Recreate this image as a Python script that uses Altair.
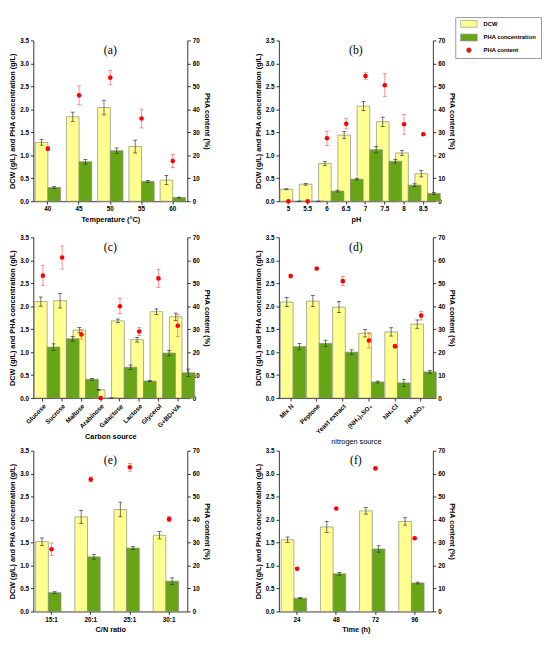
import altair as alt
import pandas as pd

SERIES = ['DCW', 'PHA concentration', 'PHA content']
YELLOW = '#FFFF8F'
GREEN = '#66A516'
RED = '#FF0000'

# (a) temperature
temp_cats = ['40', '45', '50', '55', '60']
temp_dcw = [1.28, 1.84, 2.04, 1.19, 0.46]
temp_dcw_err = [0.06, 0.10, 0.16, 0.14, 0.10]
temp_pha = [0.30, 0.86, 1.10, 0.43, 0.08]
temp_pha_err = [0.02, 0.05, 0.06, 0.02, 0.01]
temp_cont = [22.9, 46.1, 53.8, 36.0, 17.5]
temp_cont_err = [0.8, 4.1, 3.1, 4.1, 2.8]

# (b) pH
ph_cats = ['5', '5.5', '6', '6.5', '7', '7.5', '8', '8.5']
ph_dcw = [0.26, 0.37, 0.82, 1.44, 2.07, 1.73, 1.05, 0.60]
ph_dcw_err = [0.01, 0.02, 0.04, 0.08, 0.10, 0.10, 0.05, 0.07]
ph_pha = [0.0, 0.0, 0.22, 0.48, 1.12, 0.87, 0.35, 0.17]
ph_pha_err = [0.0, 0.0, 0.02, 0.02, 0.07, 0.04, 0.03, 0.02]
ph_cont = [0.0, 0.0, 27.4, 33.7, 54.5, 50.5, 33.5, 29.2]
ph_cont_err = [0.0, 0.0, 3.1, 2.2, 1.4, 5.0, 4.3, 0.5]

# (c) carbon source
carbon_cats = ['Glucose', 'Sucrose', 'Maltose', 'Arabinose', 'Galactose', 'Lactose', 'Glycerol', 'G+BD+VA']
carbon_dcw = [2.10, 2.12, 1.48, 0.18, 1.68, 1.27, 1.88, 1.77]
carbon_dcw_err = [0.10, 0.16, 0.06, 0.01, 0.04, 0.05, 0.06, 0.08]
carbon_pha = [1.11, 1.29, 0.41, 0.0, 0.67, 0.37, 0.98, 0.55]
carbon_pha_err = [0.07, 0.05, 0.02, 0.0, 0.05, 0.01, 0.06, 0.08]
carbon_cont = [53.3, 61.2, 27.7, 0.0, 40.0, 29.0, 52.1, 31.5]
carbon_cont_err = [4.4, 5.0, 2.0, 0.0, 3.3, 1.8, 3.9, 4.8]

# (d) nitrogen source
nitro_cats = ['Mix N', 'Peptone', 'Yeast extract', '(NH\u2084)\u2082SO\u2084', 'NH\u2084Cl', 'NH\u2084NO\u2083']
nitro_dcw = [2.09, 2.11, 1.98, 1.41, 1.44, 1.61]
nitro_dcw_err = [0.10, 0.12, 0.12, 0.08, 0.09, 0.09]
nitro_pha = [1.12, 1.19, 1.00, 0.35, 0.33, 0.57]
nitro_pha_err = [0.07, 0.07, 0.05, 0.02, 0.08, 0.03]
nitro_cont = [53.1, 56.4, 50.9, 25.1, 22.6, 35.9]
nitro_cont_err = [0.7, 0.5, 2.0, 3.3, 0.8, 1.9]

# (e) C/N ratio
cn_cats = ['15:1', '20:1', '25:1', '30:1']
cn_dcw = [1.52, 2.06, 2.22, 1.66]
cn_dcw_err = [0.08, 0.14, 0.16, 0.08]
cn_pha = [0.41, 1.19, 1.38, 0.66]
cn_pha_err = [0.02, 0.05, 0.03, 0.07]
cn_cont = [27.1, 57.5, 62.8, 40.2]
cn_cont_err = [2.7, 1.0, 1.7, 1.2]

# (f) time
time_cats = ['24', '48', '72', '96']
time_dcw = [1.56, 1.84, 2.19, 1.96]
time_dcw_err = [0.06, 0.12, 0.07, 0.08]
time_pha = [0.29, 0.82, 1.36, 0.62]
time_pha_err = [0.01, 0.03, 0.07, 0.02]
time_cont = [18.6, 44.8, 62.3, 31.9]
time_cont_err = [0.5, 0.5, 0.5, 0.5]

LEFT_TICKS = [0, 0.5, 1.0, 1.5, 2.0, 2.5, 3.0, 3.5]
RIGHT_TICKS = [0, 10, 20, 30, 40, 50, 60, 70]

W = 158
H = 165

color_scale = alt.Scale(domain=SERIES, range=[YELLOW, GREEN, RED])
RECT = 'M-3.4,-1.4L3.4,-1.4L3.4,1.4L-3.4,1.4Z'
shape_scale = alt.Scale(domain=SERIES, range=[RECT, RECT, 'circle'])
LEG = alt.Legend(title=None, orient='none', legendX=433, legendY=-24,
                 symbolSize=25, symbolOffset=7, labelOffset=12,
                 labelFont='Liberation Sans', labelFontSize=6, labelFontWeight='bold',
                 padding=4, rowPadding=4, strokeColor='#999999',
                 symbolStrokeColor='#888888', symbolStrokeWidth=0.6)


def panel(tag, cats, dcw, dcw_e, pha, pha_e, cont, cont_e, xtitle, angle, inner,
          xtitle_weight='bold'):
    rows = []
    for c, v, e in zip(cats, dcw, dcw_e):
        rows.append(dict(cat=c, series='DCW', value=v, lo=max(v - e, 0), hi=v + e))
    for c, v, e in zip(cats, pha, pha_e):
        rows.append(dict(cat=c, series='PHA concentration', value=v, lo=max(v - e, 0), hi=v + e))
    bars_df = pd.DataFrame(rows)
    pts_df = pd.DataFrame(dict(cat=cats, series=['PHA content'] * len(cats), value=cont,
                               lo=[max(v - e, 0) for v, e in zip(cont, cont_e)],
                               hi=[v + e for v, e in zip(cont, cont_e)]))

    xenc = alt.X('cat:N', sort=cats, title=xtitle,
                 scale=alt.Scale(paddingInner=inner, paddingOuter=0.06),
                 axis=alt.Axis(labelAngle=angle, titleFontWeight=xtitle_weight))
    xoff = alt.XOffset('series:N', sort=SERIES[:2],
                       scale=alt.Scale(domain=SERIES[:2], paddingInner=0, paddingOuter=0))

    def yl(field):
        return alt.Y(field + ':Q', scale=alt.Scale(domain=[0, 3.5], nice=False, zero=True),
                     axis=alt.Axis(values=LEFT_TICKS, format='.1f',
                                   title='DCW (g/L) and PHA concentration (g/L)'))

    def yr(field):
        return alt.Y(field + ':Q', scale=alt.Scale(domain=[0, 70], nice=False, zero=True),
                     axis=alt.Axis(orient='right', values=RIGHT_TICKS, format='d',
                                   title='PHA content (%)'))

    base_b = alt.Chart(bars_df)
    bars = base_b.mark_bar(stroke='#8a8a7a', strokeWidth=0.7).encode(
        x=xenc, xOffset=xoff, y=yl('value'),
        color=alt.Color('series:N', scale=color_scale, legend=LEG))
    b_rule = base_b.mark_rule(color='#333333', strokeWidth=0.7).encode(
        x=xenc, xOffset=xoff, y=yl('lo'), y2='hi:Q')
    b_lo = base_b.mark_tick(orient='horizontal', size=4, thickness=0.7, color='#333333', opacity=1).encode(
        x=xenc, xOffset=xoff, y=yl('lo'))
    b_hi = base_b.mark_tick(orient='horizontal', size=4, thickness=0.7, color='#333333', opacity=1).encode(
        x=xenc, xOffset=xoff, y=yl('hi'))
    tag_txt = alt.Chart(pd.DataFrame({'t': [tag]})).mark_text(
        font='Liberation Serif', fontSize=12, baseline='middle').encode(
        text='t:N', x=alt.value(W / 2), y=alt.value(10))
    left = alt.layer(bars, b_rule, b_lo, b_hi, tag_txt)

    base_p = alt.Chart(pts_df)
    p_rule = base_p.mark_rule(color='#FF6060', strokeWidth=0.7).encode(
        x=xenc, y=yr('lo'), y2='hi:Q')
    p_lo = base_p.mark_tick(orient='horizontal', size=4, thickness=0.7, color='#FF6060', opacity=1).encode(
        x=xenc, y=yr('lo'))
    p_hi = base_p.mark_tick(orient='horizontal', size=4, thickness=0.7, color='#FF6060', opacity=1).encode(
        x=xenc, y=yr('hi'))
    pts = base_p.mark_point(filled=True, size=22, opacity=1).encode(
        x=xenc, y=yr('value'),
        color=alt.Color('series:N', scale=color_scale, legend=LEG),
        shape=alt.Shape('series:N', scale=shape_scale, legend=LEG))
    right = alt.layer(p_rule, p_lo, p_hi, pts)

    return alt.layer(left, right).resolve_scale(y='independent').properties(width=W, height=H)


pa = panel('(a)', temp_cats, temp_dcw, temp_dcw_err, temp_pha, temp_pha_err, temp_cont, temp_cont_err,
           'Temperature (\u00b0C)', 0, 0.19)
pb = panel('(b)', ph_cats, ph_dcw, ph_dcw_err, ph_pha, ph_pha_err, ph_cont, ph_cont_err,
           'pH', 0, 0.13)
pc = panel('(c)', carbon_cats, carbon_dcw, carbon_dcw_err, carbon_pha, carbon_pha_err, carbon_cont,
           carbon_cont_err, 'Carbon source', -45, 0.13)
pd_ = panel('(d)', nitro_cats, nitro_dcw, nitro_dcw_err, nitro_pha, nitro_pha_err, nitro_cont,
            nitro_cont_err, 'nitrogen source', -45, 0.22, xtitle_weight='normal')
pe = panel('(e)', cn_cats, cn_dcw, cn_dcw_err, cn_pha, cn_pha_err, cn_cont, cn_cont_err,
           'C/N ratio', 0, 0.19)
pf = panel('(f)', time_cats, time_dcw, time_dcw_err, time_pha, time_pha_err, time_cont, time_cont_err,
           'Time (h)', 0, 0.19)

chart = alt.vconcat(
    alt.vconcat(
        alt.hconcat(pa, pb, spacing=44),
        alt.hconcat(pc, pd_, spacing=44),
        spacing=12,
    ),
    alt.hconcat(pe, pf, spacing=44),
    spacing=2,
).properties(
    padding={'left': 0, 'top': 0, 'right': 0, 'bottom': 0}
).configure_view(
    stroke=None
).configure_axis(
    grid=False,
    domainColor='#000000', domainWidth=0.8,
    tickColor='#000000', tickWidth=0.8, tickSize=3,
    labelFont='Liberation Sans', labelFontSize=6.5, labelFontWeight='bold', labelColor='#000000',
    labelPadding=2,
    titleFont='Liberation Sans', titleFontSize=7.5, titleFontWeight='bold', titleColor='#000000',
    titlePadding=3,
).configure_axisX(
    labelAngle=0
)

chart.save('out.html', embed_options={'renderer': 'svg', 'actions': False})
